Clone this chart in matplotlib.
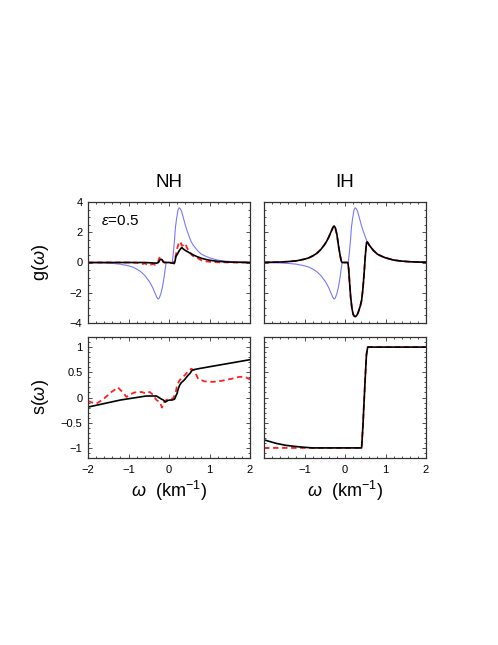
import matplotlib
matplotlib.use("Agg")
import matplotlib.pyplot as plt
from matplotlib.ticker import MultipleLocator

plt.rcParams["font.family"] = ["Liberation Sans", "DejaVu Sans"]
plt.rcParams["mathtext.fontset"] = "custom"
plt.rcParams["mathtext.rm"] = "Liberation Sans"
plt.rcParams["mathtext.it"] = "Liberation Sans:italic"

# g(omega) of the initial spectrum (blue, identical in both panels)
omega_g0 = [-2.0, -1.8, -1.6, -1.4, -1.2, -1.0, -0.9, -0.8, -0.7, -0.6, -0.5, -0.45, -0.4,
            -0.35, -0.3, -0.27, -0.24, -0.2, -0.16, -0.12, -0.09, -0.07, 0.08, 0.1, 0.13,
            0.16, 0.19, 0.22, 0.25, 0.28, 0.31, 0.35, 0.4, 0.45, 0.5, 0.55, 0.6, 0.7, 0.8,
            0.9, 1.0, 1.2, 1.4, 1.6, 1.8, 2.0]
g0 = [-0.01, -0.02, -0.03, -0.06, -0.11, -0.22, -0.3, -0.43, -0.6, -0.85, -1.2, -1.42, -1.68,
      -2.0, -2.3, -2.42, -2.35, -2.05, -1.6, -0.95, -0.35, 0.0, 0.0, 0.45, 1.3,
      2.35, 2.95, 3.45, 3.62, 3.55, 3.38, 3.0, 2.5, 2.08, 1.7, 1.36, 1.14, 0.8, 0.55,
      0.42, 0.31, 0.16, 0.09, 0.05, 0.03, 0.02]

# NH, final g(omega)
omega_g_nh = [-2.0, -1.0, -0.6, -0.4, -0.3, -0.26, -0.23, -0.2, -0.17, -0.14, -0.11, 0.0,
              0.1, 0.13, 0.15, 0.17, 0.2, 0.25, 0.3, 0.32, 0.36, 0.4, 0.45, 0.5, 0.55, 0.6,
              0.7, 0.8, 0.9, 1.0, 1.2, 1.4, 1.6, 2.0]
g_nh = [0.0, 0.0, 0.0, -0.03, -0.04, 0.0, 0.15, 0.22, 0.18, 0.05, 0.0, 0.0,
        -0.05, -0.07, 0.1, 0.4, 0.52, 0.77, 0.95, 0.98, 0.88, 0.8, 0.73, 0.65, 0.58, 0.5,
        0.38, 0.28, 0.21, 0.15, 0.08, 0.04, 0.02, 0.0]
omega_g_nh_red = [-2.0, -1.4, -1.0, -0.8, -0.7, -0.65, -0.6, -0.55, -0.5, -0.45, -0.4, -0.35,
                  -0.3, -0.27, -0.24, -0.21, -0.18, -0.15, -0.12, -0.09, 0.0, 0.1, 0.14, 0.17,
                  0.2, 0.23, 0.26, 0.29, 0.32, 0.35, 0.38, 0.41, 0.44, 0.48, 0.52, 0.56, 0.6,
                  0.65, 0.7, 0.75, 0.8, 0.9, 1.0, 1.1, 1.2, 1.4, 1.6, 2.0]
g_nh_red = [0.0, 0.0, 0.0, -0.02, -0.05, -0.1, -0.05, -0.12, -0.08, -0.14, -0.1, -0.15,
            -0.08, 0.05, 0.3, 0.35, 0.2, 0.05, 0.0, 0.0, 0.0, -0.03, 0.1, 0.5,
            0.9, 1.2, 1.38, 1.3, 1.1, 1.15, 1.25, 1.2, 1.0, 0.8, 0.65, 0.5, 0.42,
            0.35, 0.3, 0.22, 0.15, 0.08, 0.05, 0.03, 0.02, 0.01, 0.0, 0.0]

# IH, final g(omega) (red lies under black)
omega_g_ih = [-2.0, -1.8, -1.6, -1.4, -1.2, -1.0, -0.9, -0.8, -0.7, -0.6, -0.5, -0.45, -0.4,
              -0.35, -0.3, -0.27, -0.24, -0.2, -0.16, -0.12, -0.09, -0.07, 0.07, 0.09, 0.11,
              0.14, 0.17, 0.2, 0.23, 0.26, 0.29, 0.32, 0.35, 0.38, 0.41, 0.44, 0.47, 0.5,
              0.53, 0.55, 0.6, 0.7, 0.8, 0.9, 1.0, 1.2, 1.4, 1.6, 1.8, 2.0]
g_ih = [0.01, 0.02, 0.03, 0.06, 0.11, 0.22, 0.3, 0.43, 0.6, 0.85, 1.2, 1.42, 1.68,
        2.0, 2.3, 2.42, 2.3, 1.85, 1.1, 0.45, 0.08, 0.0, 0.0, -0.4, -1.2,
        -2.3, -3.0, -3.42, -3.55, -3.58, -3.5, -3.35, -3.1, -2.85, -2.5, -1.8, -0.8, 0.4,
        1.3, 1.36, 1.14, 0.8, 0.55, 0.42, 0.31, 0.16, 0.09, 0.05, 0.03, 0.02]

# NH, s(omega)
omega_s_nh = [-2.0, -1.6, -1.2, -0.8, -0.56, -0.4, -0.31, -0.25, -0.19, -0.14, -0.09, -0.03,
              0.02, 0.08, 0.14, 0.18, 0.2, 0.22, 0.26, 0.3, 0.34, 0.38, 0.43, 0.47, 0.52,
              0.56, 0.6, 0.72, 1.0, 1.5, 2.0]
s_nh = [-0.19, -0.12, -0.05, 0.0, 0.03, 0.03, 0.03, 0.0, -0.03, -0.05, -0.09, -0.06,
        -0.05, -0.05, -0.03, 0.05, 0.08, 0.15, 0.24, 0.29, 0.32, 0.35, 0.4, 0.44, 0.48,
        0.53, 0.55, 0.57, 0.61, 0.68, 0.75]
omega_s_nh_red = [-2.0, -1.9, -1.79, -1.63, -1.42, -1.26, -1.14, -1.05, -0.97, -0.85, -0.68,
                  -0.56, -0.48, -0.4, -0.31, -0.23, -0.17, -0.11, -0.02, 0.1, 0.16, 0.2,
                  0.26, 0.35, 0.41, 0.47, 0.55, 0.62, 0.72, 0.88, 1.09, 1.29, 1.54, 1.74,
                  1.87, 2.0]
s_nh_red = [-0.07, -0.1, -0.12, -0.04, 0.11, 0.2, 0.1, 0.01, 0.06, 0.1, 0.11,
            0.08, 0.11, 0.06, -0.05, -0.09, -0.2, -0.07, -0.03, -0.02, 0.08, 0.24,
            0.34, 0.41, 0.46, 0.52, 0.57, 0.54, 0.37, 0.32, 0.31, 0.33, 0.37, 0.41,
            0.41, 0.36]

# IH, s(omega)
omega_s_ih = [-2.0, -1.7, -1.45, -1.12, -0.8, 0.0, 0.41, 0.44, 0.47, 0.5, 0.53, 0.56, 1.0, 2.0]
s_ih = [-0.84, -0.91, -0.95, -0.98, -1.0, -1.0, -1.0, -0.6, -0.1, 0.4, 0.85, 1.0, 1.0, 1.0]
omega_s_ih_red = [-2.0, 0.41, 0.44, 0.47, 0.5, 0.53, 0.56, 2.0]
s_ih_red = [-1.0, -1.0, -0.6, -0.1, 0.4, 0.85, 1.0, 1.0]

BLUE = "#7878ff"
RED = "#ff2020"
FRAME = "#333333"


def style_axes(ax, ylim, ymajor, yminor):
    ax.set_xlim(-2, 2)
    ax.set_ylim(*ylim)
    ax.xaxis.set_major_locator(MultipleLocator(1))
    ax.xaxis.set_minor_locator(MultipleLocator(0.2))
    ax.yaxis.set_major_locator(MultipleLocator(ymajor))
    ax.yaxis.set_minor_locator(MultipleLocator(yminor))
    ax.tick_params(which="both", direction="in", top=True, right=True,
                   width=0.6, color=FRAME, labelsize=8)
    ax.tick_params(which="major", length=3.0)
    ax.tick_params(which="minor", length=1.5)
    ax.tick_params(axis="y", pad=4)
    ax.tick_params(axis="x", pad=5)
    for sp in ax.spines.values():
        sp.set_color(FRAME)
        sp.set_linewidth(0.9)


fig = plt.figure(figsize=(4.98, 6.45), dpi=100)
W, H = 498, 645
ax_w, ax_h = 162 / W, 121 / H
lefts = [88 / W, 264 / W]
bottoms = [1 - 323 / H, 1 - 458 / H]

axes = [[fig.add_axes([l, b, ax_w, ax_h]) for l in lefts] for b in bottoms]
(ax_gn, ax_gi), (ax_sn, ax_si) = axes

# top row: g(omega)
ax_gn.plot(omega_g0, g0, color=BLUE, lw=0.8)
ax_gn.plot(omega_g_nh_red, g_nh_red, color=RED, lw=1.3, ls=(0, (3, 2)))
ax_gn.plot(omega_g_nh, g_nh, color="black", lw=1.2)
ax_gi.plot(omega_g0, g0, color=BLUE, lw=0.8)
ax_gi.plot(omega_g_ih, g_ih, color=RED, lw=1.3, ls=(0, (3, 2)))
ax_gi.plot(omega_g_ih, g_ih, color="black", lw=1.2)

# bottom row: s(omega)
ax_sn.plot(omega_s_nh_red, s_nh_red, color=RED, lw=1.3, ls=(0, (3, 2)))
ax_sn.plot(omega_s_nh, s_nh, color="black", lw=1.2)
ax_si.plot(omega_s_ih_red, s_ih_red, color=RED, lw=1.3, ls=(0, (3, 2)))
ax_si.plot(omega_s_ih, s_ih, color="black", lw=1.2)

for ax in (ax_gn, ax_gi):
    style_axes(ax, (-4, 4), 2, 0.5)
    ax.tick_params(labelbottom=False)
for ax in (ax_sn, ax_si):
    style_axes(ax, (-1.2, 1.2), 0.5, 0.1)
for ax in (ax_gi, ax_si):
    ax.tick_params(labelleft=False)

ax_gn.set_yticks([-4, -2, 0, 2, 4])
ax_gn.set_yticklabels(["\u22124", "\u22122", "0", "2", "4"])
ax_sn.set_yticks([-1, -0.5, 0, 0.5, 1])
ax_sn.set_yticklabels(["\u22121", "\u22120.5", "0", "0.5", "1"])
ax_sn.set_xticks([-2, -1, 0, 1, 2])
ax_sn.set_xticklabels(["\u22122", "\u22121", "0", "1", "2"])
ax_si.set_xticks([-2, -1, 0, 1, 2])
ax_si.set_xticklabels(["", "\u22121", "0", "1", "2"])

ax_gn.set_ylabel(r"g($\omega$)", fontsize=13)
ax_sn.set_ylabel(r"s($\omega$)", fontsize=13)
ax_gn.yaxis.set_label_coords(-0.23, 0.5)
ax_sn.yaxis.set_label_coords(-0.23, 0.5)
for ax in (ax_sn, ax_si):
    ax.set_xlabel(r"$\omega$  (km$^{-1}$)", fontsize=13)
    ax.xaxis.set_label_coords(0.5, -0.17)

ax_gn.text(0.5, 1.16, "NH", transform=ax_gn.transAxes, ha="center", va="center", fontsize=13.5)
ax_gi.text(0.5, 1.16, "IH", transform=ax_gi.transAxes, ha="center", va="center", fontsize=13.5)
ax_gn.text(0.08, 0.84, r"$\varepsilon$=0.5", transform=ax_gn.transAxes,
           ha="left", va="center", fontsize=11)

fig.savefig("out.png", dpi=100)
